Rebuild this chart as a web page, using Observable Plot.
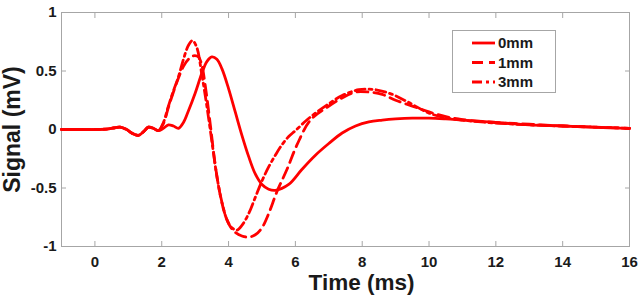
<!DOCTYPE html>
<html><head><meta charset="utf-8">
<script src="https://cdn.jsdelivr.net/npm/d3@7"></script>
<script src="https://cdn.jsdelivr.net/npm/@observablehq/plot@0.6"></script>
<style>
html,body{margin:0;padding:0;background:#fff;}
#chart{width:644px;height:301px;}
</style></head><body><div id="chart"></div>
<script>
const xTicks = [0, 2, 4, 6, 8, 10, 12, 14, 16];
const yTicks = [-1, -0.5, 0, 0.5, 1];
const seriesNames = ["0mm", "1mm", "3mm"];

const t0mm = [-1, -0.5, 0, 0.4, 0.6, 0.75, 0.95, 1.1, 1.3, 1.45, 1.6, 1.75, 1.9, 2.05, 2.2, 2.35, 2.5, 2.65, 2.8, 3.0, 3.2, 3.35, 3.5, 3.65, 3.8, 4.0, 4.2, 4.4, 4.6, 4.8, 5.0, 5.2, 5.4, 5.8, 6.2, 6.6, 7.0, 7.4, 7.8, 8.2, 8.6, 9.0, 9.5, 10, 10.5, 11, 12, 13, 14, 15, 16];
const v0mm = [0, 0, 0, 0.005, 0.015, 0.02, 0.0, -0.03, -0.05, -0.02, 0.02, 0.01, -0.01, 0.01, 0.04, 0.03, 0.01, 0.06, 0.16, 0.31, 0.48, 0.58, 0.62, 0.6, 0.52, 0.35, 0.15, -0.05, -0.23, -0.38, -0.47, -0.51, -0.52, -0.47, -0.34, -0.22, -0.12, -0.03, 0.03, 0.065, 0.08, 0.09, 0.097, 0.097, 0.09, 0.08, 0.06, 0.04, 0.03, 0.018, 0.01];

const t1mm = [-1, -0.5, 0, 0.4, 0.6, 0.75, 0.95, 1.1, 1.3, 1.45, 1.6, 1.75, 1.9, 2.05, 2.2, 2.35, 2.5, 2.65, 2.8, 2.95, 3.1, 3.2, 3.3, 3.45, 3.6, 3.75, 3.9, 4.05, 4.2, 4.4, 4.6, 4.8, 5.0, 5.2, 5.45, 5.75, 6.05, 6.45, 6.95, 7.4, 7.8, 8.2, 8.6, 9.0, 9.5, 10, 10.5, 11, 12, 13, 14, 15, 16];
const v1mm = [0, 0, 0, 0.005, 0.015, 0.02, 0, -0.03, -0.05, -0.02, 0.02, 0.01, -0.01, 0.05, 0.19, 0.32, 0.44, 0.54, 0.6, 0.63, 0.62, 0.55, 0.38, 0.05, -0.3, -0.56, -0.73, -0.83, -0.88, -0.91, -0.92, -0.9, -0.84, -0.72, -0.53, -0.34, -0.13, 0.08, 0.19, 0.27, 0.32, 0.32, 0.3, 0.25, 0.2, 0.15, 0.11, 0.085, 0.06, 0.045, 0.03, 0.02, 0.01];

const t3mm = [-1, -0.5, 0, 0.4, 0.6, 0.75, 0.95, 1.1, 1.3, 1.45, 1.6, 1.75, 1.9, 2.05, 2.2, 2.35, 2.5, 2.65, 2.8, 2.92, 3.05, 3.2, 3.35, 3.5, 3.65, 3.8, 3.95, 4.1, 4.25, 4.4, 4.6, 4.8, 5.0, 5.2, 5.4, 5.6, 5.8, 6.0, 6.3, 6.6, 7.0, 7.4, 7.9, 8.4, 8.9, 9.4, 10, 10.5, 11, 12, 13, 14, 15, 16];
const v3mm = [0, 0, 0, 0.005, 0.015, 0.02, 0, -0.03, -0.05, -0.02, 0.02, 0.01, -0.01, 0.06, 0.2, 0.33, 0.45, 0.6, 0.72, 0.76, 0.7, 0.47, 0.2, -0.1, -0.4, -0.62, -0.77, -0.84, -0.86, -0.82, -0.72, -0.58, -0.44, -0.32, -0.22, -0.13, -0.06, -0.01, 0.07, 0.14, 0.22, 0.29, 0.34, 0.34, 0.3, 0.23, 0.14, 0.1, 0.08, 0.055, 0.04, 0.03, 0.02, 0.01];

const seriesT = {"0mm": t0mm, "1mm": t1mm, "3mm": t3mm};
const seriesV = {"0mm": v0mm, "1mm": v1mm, "3mm": v3mm};
const dashes = {"0mm": null, "1mm": "11,6", "3mm": "10,4,3,4"};
const red = "#ff0000";
const font = "'Liberation Sans', Arial, Helvetica, sans-serif";

const rows = seriesNames.flatMap(s => seriesT[s].map((t, i) => ({s, t, v: seriesV[s][i]})));

const lineMarks = seriesNames.slice().reverse().map(s =>
  Plot.line(rows.filter(r => r.s === s), {
    x: "t", y: "v", stroke: red, strokeWidth: 2.8,
    strokeDasharray: dashes[s], curve: "catmull-rom"
  })
);

const chart = Plot.plot({
  width: 644, height: 301,
  marginLeft: 61, marginRight: 15, marginTop: 12, marginBottom: 55,
  style: {fontFamily: font, fontSize: "15px", fontWeight: "bold", color: "#1a1a1a", background: "#fff"},
  x: {domain: [-1, 16]},
  y: {domain: [-1, 1]},
  marks: [
    Plot.frame({stroke: "#a6a6a6"}),
    Plot.axisX({ticks: xTicks, anchor: "bottom", tickSize: -5, tickPadding: 15, stroke: "#a6a6a6", tickFormat: d => String(d), label: null}),
    Plot.axisX({ticks: xTicks.slice(0, -1), anchor: "top", tickSize: -5, stroke: "#a6a6a6", tickFormat: () => "", label: null}),
    Plot.axisY({ticks: yTicks, anchor: "left", tickSize: -5, tickPadding: 10, stroke: "#a6a6a6", tickFormat: d => String(d), label: null}),
    Plot.axisY({ticks: yTicks.slice(1, -1), anchor: "right", tickSize: -5, stroke: "#a6a6a6", tickFormat: () => "", label: null}),
    ...lineMarks,
    Plot.text(["Time (ms)"], {frameAnchor: "bottom", dx: 16, dy: 36, lineAnchor: "middle", textAnchor: "middle", fontSize: 22.5, fontWeight: "bold", fill: "#1a1a1a"}),
    Plot.text(["Signal (mV)"], {frameAnchor: "left", dx: -49, rotate: -90, lineAnchor: "middle", textAnchor: "middle", fontSize: 23, fontWeight: "bold", fill: "#1a1a1a"})
  ]
});
document.getElementById("chart").appendChild(chart);

// legend
const svg = d3.select(chart);
const lg = svg.append("g").attr("text-anchor", "start");
lg.append("rect").attr("x", 452.5).attr("y", 30.5).attr("width", 103).attr("height", 62)
  .attr("fill", "#fff").attr("stroke", "#a6a6a6");
seriesNames.forEach((s, i) => {
  const y = 43 + i * 19.5;
  lg.append("line").attr("x1", 472).attr("x2", 495).attr("y1", y).attr("y2", y)
    .attr("stroke", red).attr("stroke-width", 2.8)
    .attr("stroke-dasharray", dashes[s]);
  lg.append("text").attr("x", 498).attr("y", y).attr("dy", "0.35em")
    .attr("text-anchor", "start")
    .attr("font-size", 15).attr("font-weight", "bold").attr("fill", "#1a1a1a")
    .text(s);
});
</script></body></html>
